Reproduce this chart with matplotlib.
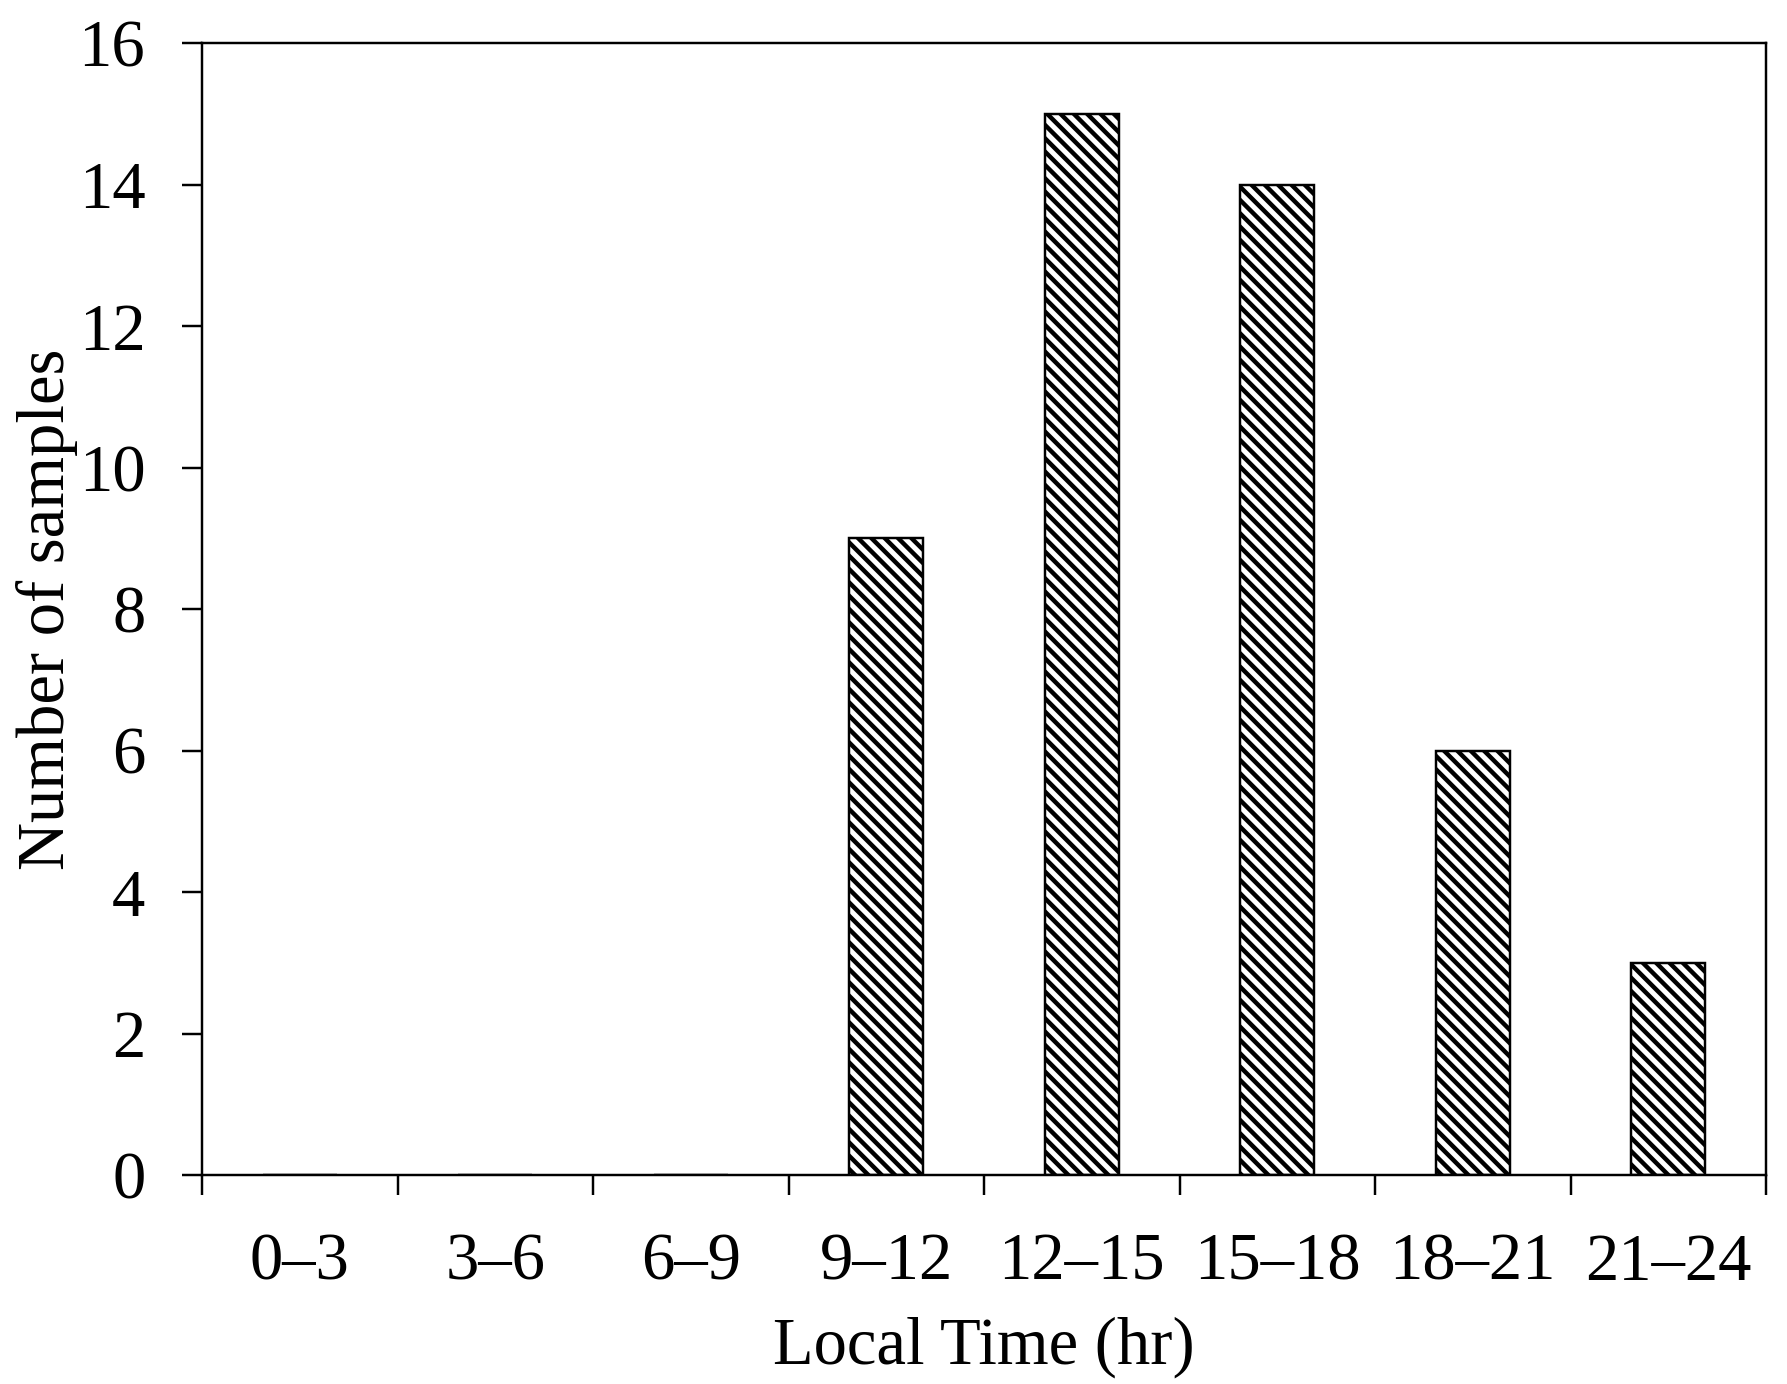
import matplotlib
matplotlib.use("Agg")
import matplotlib.pyplot as plt
import numpy as np

categories = ["0\u20133", "3\u20136", "6\u20139", "9\u201312", "12\u201315", "15\u201318", "18\u201321", "21\u201324"]
counts = [0, 0, 0, 9, 15, 14, 6, 3]
y_ticks = [0, 2, 4, 6, 8, 10, 12, 14, 16]

DPI = 80
HATCH_LW = 4.0
LW = 2.2
plt.rcParams['font.family'] = ['Liberation Serif', 'DejaVu Serif']
plt.rcParams['hatch.linewidth'] = HATCH_LW
plt.rcParams['hatch.color'] = 'black'

fig = plt.figure(figsize=(1787 / DPI, 1384 / DPI), dpi=DPI)
ax = fig.add_axes([202 / 1787, 1 - 1175 / 1384, (1766 - 202) / 1787, (1175 - 43) / 1384])

x = np.arange(len(categories))
bars = ax.bar(x, counts, width=0.38, color='white', edgecolor='black', linewidth=LW, hatch='\\\\')
for b in bars:
    if hasattr(b, 'set_hatch_linewidth'):
        b.set_hatch_linewidth(HATCH_LW)

ax.set_xlim(-0.5, len(categories) - 0.5)
ax.set_ylim(0, 16)
ax.set_yticks(y_ticks)
ax.set_xticks(x)
ax.set_xticklabels(categories)
ax.set_xticks(np.arange(len(categories) + 1) - 0.5, minor=True)

for s in ax.spines.values():
    s.set_linewidth(LW)

ax.tick_params(axis='y', which='major', direction='out', length=18, width=LW, labelsize=60, pad=33)
ax.tick_params(axis='x', which='major', length=0, labelsize=60, pad=52)
ax.tick_params(axis='x', which='minor', direction='out', length=18, width=LW)

ax.set_xlabel("Local Time (hr)", fontsize=60, labelpad=20)
ax.set_ylabel("Number of samples", fontsize=60)
ax.yaxis.set_label_coords(-124 / 1564, 0.5)

fig.savefig("out.png", dpi=DPI, facecolor='white')
